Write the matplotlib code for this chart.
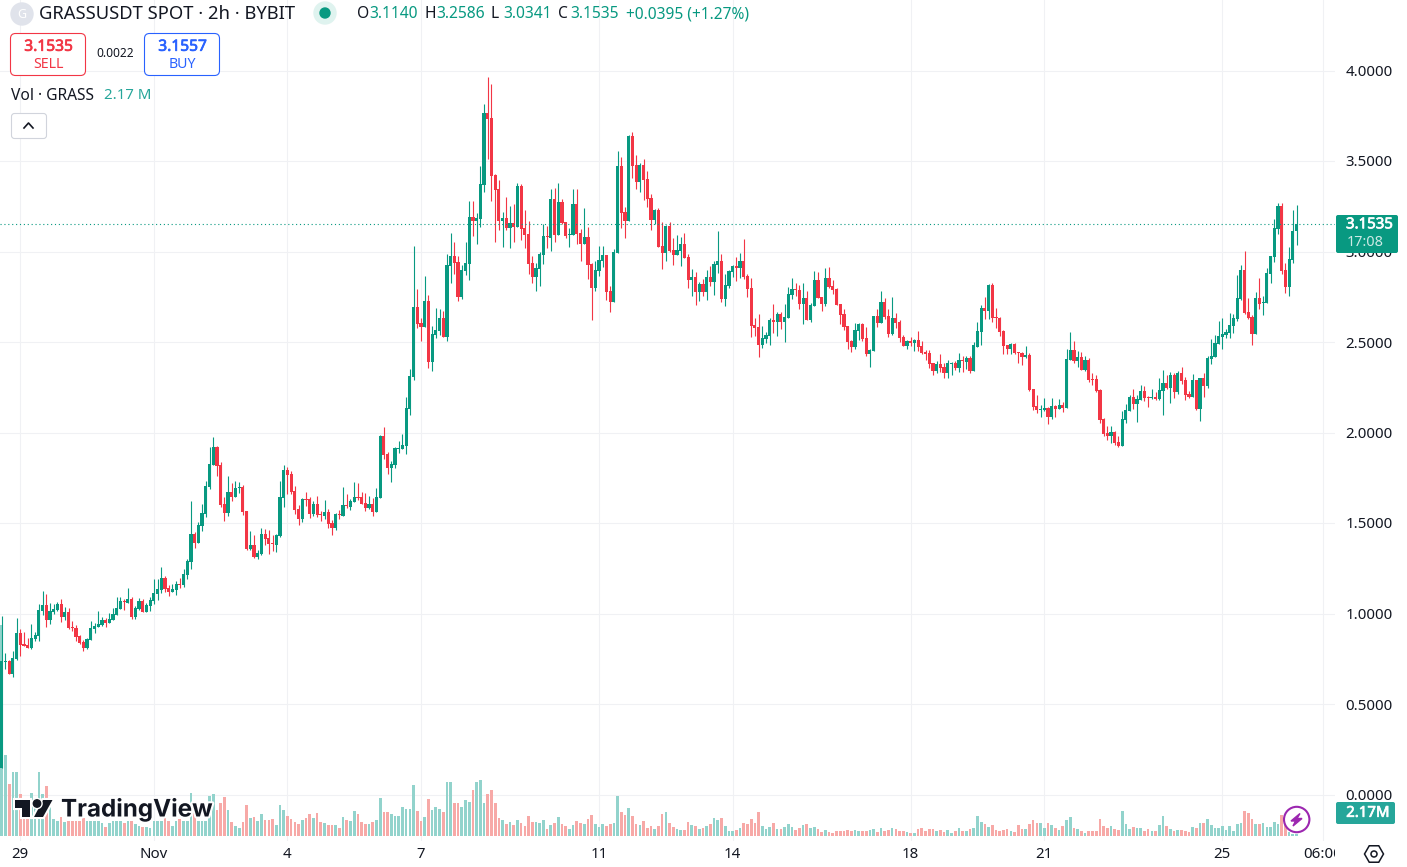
import numpy as np
import matplotlib
matplotlib.use('Agg')
import matplotlib.pyplot as plt
import matplotlib.patheffects as pe
from matplotlib.patches import FancyBboxPatch, Circle, Polygon, RegularPolygon
from matplotlib.transforms import Bbox, TransformedBbox, IdentityTransform

plt.rcParams['font.family'] = ['Noto Sans', 'DejaVu Sans']

# 2h candles, ten per line
opens = [.146,.732,.739,.666,.749,.892,.831,.826,.809,.859,
 .876,1.014,1.047,.964,1.008,1.019,1.052,.981,1.008,.925,
 .920,.876,.842,.809,.854,.914,.925,.936,.964,.947,
 .964,.992,1.025,1.069,1.058,1.080,.981,1.025,1.069,1.008,
 1.041,1.069,1.108,1.130,1.196,1.141,1.119,1.130,1.163,1.157,
 1.213,1.284,1.439,1.389,1.483,1.550,1.699,1.820,1.920,1.820,
 1.605,1.555,1.671,1.644,1.693,1.699,1.566,1.356,1.378,1.312,
 1.329,1.439,1.417,1.389,1.378,1.428,1.638,1.793,1.771,1.677,
 1.577,1.522,1.633,1.633,1.550,1.605,1.550,1.539,1.561,1.500,
 1.472,1.550,1.539,1.599,1.588,1.616,1.644,1.644,1.610,1.583,
 1.605,1.561,1.638,1.981,1.881,1.804,1.820,1.909,1.909,1.925,
 2.130,2.307,2.694,2.605,2.583,2.727,2.390,2.539,2.561,2.633,
 2.528,2.920,2.975,2.942,2.749,2.892,2.931,3.191,3.169,3.180,
 3.368,3.765,3.738,3.423,3.346,3.169,3.185,3.130,3.158,3.136,
 3.362,3.130,3.097,2.937,2.859,2.904,2.981,3.086,3.075,3.290,
 3.091,3.274,3.163,3.091,3.091,3.263,3.102,3.042,3.080,2.931,
 2.799,2.892,2.948,2.981,2.782,2.721,2.992,3.473,3.218,3.169,
 3.638,3.478,3.384,3.478,3.401,3.296,3.174,3.229,3.031,2.992,
 3.141,3.008,2.981,3.003,3.042,2.970,2.843,2.859,2.776,2.821,
 2.776,2.859,2.832,2.926,2.948,2.738,2.810,2.887,2.920,2.909,
 2.948,2.865,2.799,2.594,2.583,2.484,2.517,2.533,2.622,2.610,
 2.655,2.610,2.633,2.760,2.793,2.787,2.710,2.743,2.622,2.699,
 2.842,2.749,2.710,2.854,2.809,2.793,2.710,2.655,2.588,2.506,
 2.472,2.561,2.599,2.522,2.434,2.450,2.644,2.605,2.721,2.644,
 2.544,2.633,2.610,2.528,2.478,2.506,2.494,2.511,2.478,2.445,
 2.439,2.384,2.340,2.378,2.362,2.329,2.378,2.384,2.356,2.400,
 2.389,2.412,2.340,2.472,2.555,2.688,2.671,2.815,2.638,2.633,
 2.561,2.483,2.461,2.489,2.445,2.439,2.417,2.428,2.240,2.147,
 2.125,2.125,2.136,2.086,2.147,2.130,2.152,2.136,2.401,2.456,
 2.395,2.417,2.345,2.401,2.296,2.296,2.235,2.075,1.997,1.981,
 2.003,1.948,1.926,2.069,2.119,2.196,2.158,2.180,2.229,2.196,
 2.191,2.196,2.185,2.229,2.274,2.246,2.318,2.224,2.329,2.290,
 2.213,2.196,2.290,2.130,2.301,2.257,2.406,2.417,2.489,2.528,
 2.539,2.550,2.589,2.627,2.738,2.898,2.666,2.638,2.544,2.743,
 2.716,2.716,2.876,2.970,3.125,3.252,2.898,2.804,2.953,3.114]

highs = [.986,.782,.743,.793,.975,.914,.898,.865,.942,.898,
 1.052,1.124,1.108,1.058,1.052,1.063,1.080,1.036,1.030,.958,
 .936,.881,.854,.865,.958,.947,1.014,.981,.975,1.003,
 1.030,1.091,1.091,1.080,1.141,1.091,1.041,1.086,1.080,1.058,
 1.091,1.191,1.191,1.257,1.207,1.157,1.163,1.180,1.196,1.246,
 1.301,1.622,1.450,1.505,1.605,1.732,1.920,1.975,1.925,1.837,
 1.644,1.760,1.721,1.732,1.726,1.710,1.566,1.456,1.434,1.351,
 1.472,1.467,1.461,1.434,1.439,1.732,1.820,1.809,1.787,1.704,
 1.599,1.638,1.671,1.644,1.622,1.649,1.566,1.627,1.577,1.516,
 1.555,1.572,1.699,1.660,1.633,1.726,1.721,1.671,1.666,1.649,
 1.638,1.693,1.986,2.030,1.892,1.842,1.920,1.953,1.992,2.196,
 2.351,3.031,2.793,2.633,2.865,2.760,2.589,2.688,2.683,2.671,
 2.986,3.102,3.053,2.975,2.926,3.053,3.279,3.279,3.213,3.473,
 3.815,3.964,3.926,3.428,3.395,3.218,3.301,3.252,3.263,3.379,
 3.373,3.229,3.169,2.975,2.937,2.997,3.152,3.141,3.346,3.351,
 3.379,3.290,3.163,3.130,3.346,3.346,3.125,3.241,3.136,2.937,
 2.948,3.031,3.031,2.981,2.810,3.014,3.555,3.522,3.246,3.644,
 3.660,3.533,3.489,3.511,3.445,3.318,3.235,3.241,3.163,3.147,
 3.163,3.075,3.091,3.080,3.102,2.986,2.904,2.887,2.832,2.848,
 2.898,2.920,2.948,3.113,2.986,2.876,2.898,2.926,2.970,2.992,
 3.069,2.876,2.854,2.633,2.655,2.589,2.556,2.633,2.710,2.666,
 2.666,2.710,2.804,2.854,2.826,2.815,2.826,2.782,2.715,2.892,
 2.887,2.749,2.909,2.914,2.842,2.798,2.710,2.682,2.588,2.511,
 2.605,2.605,2.605,2.583,2.461,2.644,2.682,2.782,2.743,2.682,
 2.749,2.660,2.622,2.539,2.511,2.528,2.517,2.561,2.506,2.456,
 2.456,2.384,2.395,2.434,2.384,2.400,2.389,2.395,2.439,2.423,
 2.423,2.423,2.500,2.610,2.704,2.749,2.820,2.826,2.688,2.638,
 2.566,2.483,2.494,2.494,2.445,2.445,2.478,2.439,2.240,2.207,
 2.152,2.191,2.141,2.191,2.152,2.185,2.169,2.462,2.555,2.506,
 2.451,2.445,2.423,2.412,2.329,2.318,2.241,2.080,2.036,2.036,
 2.008,1.981,2.119,2.158,2.207,2.241,2.207,2.263,2.257,2.202,
 2.241,2.224,2.301,2.346,2.318,2.334,2.329,2.340,2.362,2.307,
 2.229,2.323,2.290,2.301,2.329,2.423,2.517,2.539,2.616,2.633,
 2.572,2.660,2.655,2.870,2.926,3.003,2.743,2.649,2.776,2.854,
 2.754,2.909,2.975,3.180,3.268,3.268,2.937,3.025,3.230,3.2586]

lows = [.146,.691,.666,.649,.743,.765,.820,.809,.804,.848,
 .848,.992,.925,.942,.997,1.014,.953,.964,.914,.903,
 .848,.831,.793,.804,.854,.892,.925,.931,.925,.947,
 .964,.992,1.025,1.019,1.058,.970,.970,1.019,1.008,1.008,
 1.014,1.052,1.075,1.113,1.119,1.097,1.119,1.102,1.141,1.146,
 1.191,1.246,1.362,1.389,1.456,1.533,1.688,1.820,1.760,1.588,
 1.511,1.539,1.622,1.644,1.666,1.544,1.351,1.351,1.307,1.301,
 1.323,1.378,1.329,1.345,1.340,1.423,1.588,1.660,1.660,1.550,
 1.489,1.505,1.594,1.528,1.539,1.533,1.511,1.522,1.472,1.434,
 1.461,1.522,1.539,1.583,1.572,1.616,1.627,1.605,1.566,1.577,
 1.539,1.561,1.638,1.854,1.771,1.726,1.804,1.887,1.909,1.881,
 2.097,2.290,2.578,2.506,2.583,2.357,2.340,2.522,2.539,2.528,
 2.506,2.826,2.876,2.727,2.738,2.870,2.843,3.086,3.042,3.136,
 3.329,3.511,3.279,3.053,3.119,3.025,3.119,3.020,3.053,3.136,
 3.064,3.020,2.876,2.826,2.782,2.810,2.931,3.020,3.003,3.053,
 3.091,3.152,3.075,3.025,3.091,3.042,2.948,3.042,2.848,2.622,
 2.782,2.865,2.915,2.732,2.666,2.721,2.992,3.130,3.075,3.169,
 3.406,3.346,3.329,3.285,3.246,3.119,3.152,3.025,2.904,2.948,
 2.997,2.926,2.981,2.920,2.964,2.799,2.754,2.705,2.727,2.754,
 2.732,2.810,2.760,2.881,2.721,2.699,2.799,2.859,2.837,2.854,
 2.848,2.749,2.528,2.533,2.417,2.467,2.495,2.484,2.550,2.533,
 2.572,2.500,2.633,2.738,2.754,2.682,2.599,2.622,2.610,2.699,
 2.743,2.671,2.699,2.798,2.765,2.704,2.599,2.566,2.461,2.445,
 2.461,2.511,2.506,2.423,2.362,2.450,2.583,2.605,2.627,2.528,
 2.539,2.577,2.500,2.478,2.461,2.478,2.450,2.450,2.434,2.400,
 2.356,2.318,2.329,2.334,2.301,2.301,2.318,2.345,2.334,2.334,
 2.351,2.329,2.340,2.472,2.483,2.627,2.627,2.610,2.577,2.533,
 2.434,2.434,2.434,2.434,2.384,2.373,2.412,2.229,2.125,2.108,
 2.086,2.119,2.047,2.075,2.086,2.130,2.114,2.136,2.401,2.384,
 2.362,2.345,2.340,2.279,2.263,2.224,2.053,1.981,1.959,1.942,
 1.931,1.920,1.926,2.053,2.119,2.130,2.058,2.180,2.174,2.141,
 2.185,2.180,2.180,2.097,2.241,2.163,2.191,2.213,2.268,2.180,
 2.191,2.196,2.125,2.064,2.196,2.246,2.379,2.417,2.489,2.462,
 2.522,2.522,2.550,2.616,2.732,2.655,2.627,2.484,2.544,2.683,
 2.649,2.716,2.826,2.942,3.097,2.876,2.771,2.754,2.937,3.0341]

closes = [.738,.739,.666,.754,.892,.826,.820,.809,.865,.881,
 1.019,1.047,.964,1.014,1.025,1.052,.981,1.008,.920,.920,
 .870,.837,.809,.859,.920,.931,.942,.964,.947,.970,
 .997,1.030,1.069,1.063,1.080,.981,1.030,1.069,1.008,1.047,
 1.075,1.113,1.135,1.196,1.135,1.119,1.135,1.163,1.157,1.218,
 1.290,1.439,1.389,1.489,1.555,1.704,1.826,1.920,1.815,1.599,
 1.555,1.671,1.644,1.693,1.699,1.561,1.356,1.378,1.312,1.334,
 1.439,1.412,1.384,1.384,1.434,1.644,1.793,1.765,1.671,1.572,
 1.522,1.633,1.627,1.550,1.605,1.544,1.544,1.561,1.494,1.472,
 1.550,1.544,1.599,1.594,1.622,1.644,1.638,1.605,1.583,1.605,
 1.561,1.644,1.981,1.876,1.804,1.826,1.914,1.914,1.931,2.135,
 2.312,2.694,2.600,2.583,2.727,2.390,2.544,2.567,2.633,2.528,
 2.926,2.975,2.937,2.749,2.898,2.937,3.191,3.169,3.185,3.373,
 3.765,3.732,3.417,3.340,3.169,3.185,3.130,3.158,3.136,3.362,
 3.125,3.091,2.931,2.859,2.909,2.986,3.086,3.080,3.290,3.091,
 3.274,3.158,3.086,3.097,3.263,3.097,3.042,3.080,2.926,2.799,
 2.898,2.953,2.981,2.776,2.721,2.997,3.473,3.213,3.169,3.638,
 3.473,3.384,3.478,3.395,3.290,3.174,3.229,3.025,2.992,3.141,
 3.003,2.981,3.008,3.042,2.964,2.843,2.859,2.776,2.821,2.776,
 2.859,2.832,2.931,2.948,2.738,2.815,2.892,2.920,2.909,2.948,
 2.859,2.793,2.589,2.578,2.484,2.522,2.539,2.622,2.610,2.655,
 2.610,2.638,2.765,2.793,2.787,2.710,2.743,2.622,2.704,2.842,
 2.743,2.710,2.854,2.804,2.787,2.704,2.649,2.583,2.500,2.472,
 2.566,2.599,2.517,2.434,2.456,2.644,2.605,2.721,2.638,2.544,
 2.633,2.605,2.522,2.478,2.506,2.494,2.511,2.472,2.439,2.434,
 2.378,2.340,2.378,2.356,2.329,2.384,2.384,2.356,2.400,2.395,
 2.412,2.340,2.483,2.561,2.688,2.671,2.815,2.633,2.633,2.555,
 2.478,2.461,2.489,2.439,2.439,2.417,2.428,2.235,2.141,2.125,
 2.130,2.136,2.086,2.147,2.130,2.152,2.136,2.406,2.456,2.395,
 2.417,2.345,2.401,2.290,2.290,2.229,2.069,1.992,1.981,2.003,
 1.942,1.926,2.075,2.125,2.196,2.158,2.185,2.229,2.191,2.191,
 2.196,2.185,2.235,2.274,2.246,2.318,2.224,2.329,2.285,2.207,
 2.196,2.290,2.130,2.301,2.257,2.412,2.423,2.495,2.533,2.544,
 2.555,2.594,2.633,2.743,2.898,2.660,2.633,2.544,2.743,2.710,
 2.721,2.881,2.975,3.130,3.252,2.892,2.804,2.959,3.113,3.1535]

# volume in millions of GRASS
volume = [211,81,52,64,64,42,26,22,43,30,
 64,42,50,30,17,15,19,14,15,15,
 15,15,18,15,15,15,15,13,9,13,
 15,15,15,13,15,15,12,10,9,9,
 8,15,15,15,19,15,10,15,17,15,
 15,43,30,15,15,15,40,42,26,33,
 39,26,14,10,8,14,31,18,19,15,
 22,16,16,17,11,31,26,20,17,14,
 12,16,18,22,18,23,14,13,11,11,
 11,8,19,16,15,25,22,14,12,12,
 14,16,38,24,24,22,20,20,29,27,
 27,51,25,15,19,37,26,29,27,24,
 54,54,33,33,29,36,34,46,54,56,
 33,42,46,33,18,16,12,14,11,16,
 13,10,20,14,14,13,16,7,11,13,
 19,12,10,7,11,15,13,12,17,21,
 12,9,12,10,12,13,40,24,21,28,
 20,12,11,15,8,10,7,10,22,24,
 13,9,7,6,6,14,11,10,7,8,
 10,12,18,16,18,10,5,5,6,8,
 13,12,17,13,24,10,7,9,13,7,
 7,9,12,9,6,8,11,12,8,9,
 7,4,6,4,3,5,5,5,6,5,
 6,5,5,5,6,7,4,8,5,6,
 8,7,5,5,4,3,3,7,8,5,
 7,7,5,6,4,6,3,5,8,5,
 5,7,8,20,14,12,9,11,6,5,
 6,7,5,4,11,7,7,12,16,13,
 13,8,13,11,8,6,10,16,19,8,
 7,5,3,5,5,5,17,10,8,10,
 7,6,25,12,7,9,8,8,5,7,
 5,5,11,20,10,7,5,6,6,5,
 4,9,8,13,13,17,11,8,8,10,
 6,10,5,12,13,25,23,17,12,12,
 13,9,9,14,12,21,14,4,2,2.17]

price_ticks = [0, 0.5, 1, 1.5, 2, 2.5, 3, 3.5, 4]
date_ticks = [5, 41, 77, 113, 161, 197, 245, 281, 329, 356]
date_labels = ['29', 'Nov', '4', '7', '11', '14', '18', '21', '25', '06:00']
last_price = 3.1535

GREEN = '#089981'
RED = '#f23645'
VOL_GREEN = '#92d3cc'
VOL_RED = '#f7a9a7'
GRID = '#f0f1f4'
TEXT = '#131722'

W, H = 1407, 867
PANE_W, PANE_H = 1335, 841
BAR_STEP, BAR_X0 = 3.71, 1.75

fig = plt.figure(figsize=(W / 100, H / 100), dpi=100, facecolor='white')
pane = [0, (H - PANE_H) / H, PANE_W / W, PANE_H / H]
xlim = (-BAR_X0 / BAR_STEP, (PANE_W - BAR_X0) / BAR_STEP)
ylim = ((794.5 - PANE_H) / 181, 794.5 / 181)

ax = fig.add_axes(pane, zorder=1)
ax_vol = fig.add_axes(pane, zorder=2)
ax_c = fig.add_axes(pane, zorder=3)
for a in (ax, ax_vol, ax_c):
    a.set_xlim(xlim)
    for s in a.spines.values():
        s.set_visible(False)
ax.set_ylim(ylim)
ax_c.set_ylim(ylim)
ax_vol.set_ylim(-(PANE_H - 836), 836)
ax_vol.axis('off')
ax_c.axis('off')
ax_vol.patch.set_visible(False)
ax_c.patch.set_visible(False)

ax.grid(True, color=GRID, linewidth=0.8)
ax.set_axisbelow(True)
ax.yaxis.tick_right()
ax.set_yticks(price_ticks)
ax.set_yticklabels(['%.4f' % p for p in price_ticks], fontsize=10.8, color=TEXT)
ax.set_xticks(date_ticks)
ax.set_xticklabels(date_labels, fontsize=10.8, color=TEXT)
ax.tick_params(length=0)
ax.tick_params(axis='y', pad=7.5)
ax.tick_params(axis='x', pad=4)
for lab in ax.get_xticklabels():
    if lab.get_text() == 'Nov':
        lab.set_fontweight('medium')
    if lab.get_text() == '06:00':
        lab.set_clip_box(TransformedBbox(Bbox([[0, 0], [PANE_W, H]]), IdentityTransform()))
        lab.set_clip_on(True)

o = np.array(opens)
h = np.array(highs)
l = np.array(lows)
c = np.array(closes)
idx = np.arange(len(o))
up = c >= o

ax_vol.bar(idx, volume, width=0.72, color=[VOL_GREEN if u else VOL_RED for u in up], linewidth=0)

colors = [GREEN if u else RED for u in up]
ax_c.vlines(idx, l, h, colors=colors, linewidth=0.8)
ax_c.bar(idx, np.abs(c - o), bottom=np.minimum(o, c), width=0.86, color=colors, linewidth=0)
ax_c.axhline(last_price, color=GREEN, linewidth=0.8, linestyle=(0, (1, 2.5)))

# everything that is not chart data, drawn in pixels
ui = fig.add_axes([0, 0, 1, 1], zorder=10)
ui.set_xlim(0, W)
ui.set_ylim(H, 0)
ui.axis('off')
ui.patch.set_visible(False)


def label(x, y, s, size=11.2, color=TEXT, ha='left', heavy=False, **kw):
    t = ui.text(x, y + 1.3, s, fontsize=size, color=color, ha=ha, va='center', **kw)
    if heavy:
        t.set_path_effects([pe.withStroke(linewidth=0.5, foreground=color)])
    return t


def box(x0, y0, x1, y1, face='white', edge='none', r=5, lw=0.8):
    ui.add_patch(FancyBboxPatch((x0, y0), x1 - x0, y1 - y0, boxstyle='round,pad=0,rounding_size=%g' % r,
                                facecolor=face, edgecolor=edge, linewidth=lw))


# header
ui.add_patch(Circle((22, 14), 11, color='#e0e3eb'))
label(22, 13, 'G', 9, 'white', 'center', fontweight='bold')
label(39, 13, 'GRASSUSDT SPOT · 2h · BYBIT', 13.25)
ui.add_patch(Circle((325, 13), 11, color='#dff3ef'))
ui.add_patch(Circle((325, 13), 5, color=GREEN))
for x, s in [(357, 'O'), (424, 'H'), (491, 'L'), (558, 'C')]:
    label(x, 13, s)
for x, s in [(369, '3.1140'), (436, '3.2586'), (503, '3.0341'), (570, '3.1535'), (626, '+0.0395 (+1.27%)')]:
    label(x, 13, s, color=GREEN)

# sell / buy
box(10.5, 33.5, 85.5, 75.5, edge=RED)
label(48.5, 45.5, '3.1535', 11.2, RED, 'center', heavy=True)
label(48, 63, 'SELL', 10.2, RED, 'center')
label(115, 52, '0.0022', 8.6, TEXT, 'center')
box(144.5, 33.5, 219.5, 75.5, edge='#2962ff')
label(182.5, 45.5, '3.1557', 11.2, '#2962ff', 'center', heavy=True)
label(182, 63, 'BUY', 10.2, '#2962ff', 'center')

# volume legend
label(11, 94.5, 'Vol · GRASS', 11.2)
label(104, 94.5, '2.17 M', 10.8, '#26a69a')
box(11.5, 113.5, 46.5, 138.5, edge='#d1d4dc', r=3)
ui.plot([24, 28.5, 33], [128, 123, 128], color=TEXT, linewidth=1.2)

# price and volume tags
box(1336, 215, 1398, 253, face=GREEN, r=2)
label(1369.5, 223.5, '3.1535', 10.8, 'white', 'center', heavy=True)
label(1365.5, 241.5, '17:08', 10.4, '#cdeae5', 'center')
box(1336, 802, 1395, 824, face='#26a69a', r=2)
label(1368, 812, '2.17M', 10.8, 'white', 'center', heavy=True)

# TradingView mark
halo = [pe.withStroke(linewidth=3, foreground='white')]
for pts in ([(15, 800), (30, 800), (30, 817), (22, 817), (22, 808), (15, 808)],
            [(43, 800), (52.5, 800), (43, 817), (34, 817)]):
    p = Polygon(pts, closed=True, facecolor=TEXT, edgecolor='none')
    p.set_path_effects(halo)
    ui.add_patch(p)
dot = Circle((37, 803.5), 3.7, color=TEXT)
dot.set_path_effects(halo)
ui.add_patch(dot)
label(61, 808.7, 'TradingView', 17.4, TEXT, fontfamily='Inter', fontweight='bold', path_effects=halo)

# lightning button
ui.add_patch(Circle((1296.7, 819.5), 12.7, facecolor='white', edgecolor='#9c27b0', linewidth=1.5))
ui.add_patch(Polygon([(1300, 813.5), (1291, 821), (1295.5, 821), (1293, 826), (1302, 818.5), (1297, 818.5)],
                     closed=True, color='#9c27b0'))

# settings
ui.add_patch(RegularPolygon((1374, 854), 6, radius=9.5, orientation=np.pi / 2, fill=False, edgecolor=TEXT, linewidth=1.1))
ui.add_patch(Circle((1374, 854), 3, fill=False, edgecolor=TEXT, linewidth=1.1))

fig.savefig('out.png', dpi=100, facecolor='white')
